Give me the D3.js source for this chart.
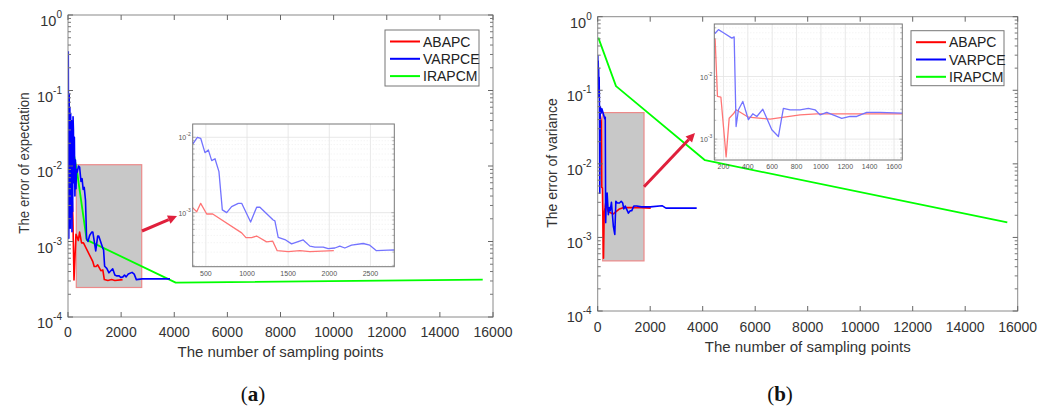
<!DOCTYPE html>
<html><head><meta charset="utf-8">
<script src="https://cdn.jsdelivr.net/npm/d3@7"></script>
<style>
body{margin:0;background:#fff;}
svg{display:block;font-family:"Liberation Sans",Arial,sans-serif;}
</style></head>
<body>
<svg id="chart" width="1050" height="411"></svg>
<script>
// ---------- DATA ----------
const seriesNames = ["ABAPC", "VARPCE", "IRAPCM"];
const seriesColors = ["#ff0000", "#0000ff", "#00ff00"];
const insetColors = ["#ff7575", "#7373ff"];
const xTicksMain = [0, 2000, 4000, 6000, 8000, 10000, 12000, 14000, 16000];
const yTicksMain = [-4, -3, -2, -1, 0];

// (a) error of expectation
const expRedX = [20, 60, 100, 140, 185, 226, 300, 347, 389, 437, 510, 583, 935, 987, 1056, 1117, 1238, 1311, 1367, 1501, 1643, 1764, 2055];
const expRedY = [0.03, 4e-3, 0.01, 5.3e-3, 2e-3, 3.1e-4, 1.25e-3, 1.14e-3, 1.03e-3, 1.33e-3, 9.6e-4, 9.6e-4, 5.4e-4, 4.66e-4, 4.66e-4, 4.9e-4, 4.1e-4, 4.2e-4, 3.13e-4, 3.05e-4, 3.13e-4, 3.05e-4, 3.13e-4];
const expBlueX = [10, 30, 45, 55, 70, 85, 100, 115, 130, 150, 165, 176, 190, 205, 220, 240, 260, 280, 300, 320, 347, 396, 437, 489, 530, 571, 611, 659, 700, 753, 813, 894, 935, 1044, 1117, 1157, 1318, 1339, 1379, 1460, 1542, 1683, 1764, 1825, 1926, 1986, 2068, 2128, 2189, 2270, 2411, 2492, 2573, 2788, 3000, 3840];
const expBlueY = [0.33, 1.1e-3, 0.09, 2e-3, 0.06, 1.5e-3, 0.05, 3e-3, 0.04, 1.35e-3, 0.035, 2.5e-3, 0.045, 0.03, 6e-3, 0.024, 4e-3, 0.012, 5e-3, 9e-3, 8.3e-3, 1e-2, 9.7e-3, 6.25e-3, 6.8e-3, 4.9e-3, 5.2e-3, 3.5e-3, 1.09e-3, 1e-3, 1.2e-3, 1.33e-3, 1.33e-3, 7.5e-4, 1.18e-3, 1.18e-3, 8e-4, 7.8e-4, 4.7e-4, 4.4e-4, 3.85e-4, 4.35e-4, 3.6e-4, 3.5e-4, 3.5e-4, 3.33e-4, 3.4e-4, 3.6e-4, 3.4e-4, 3.7e-4, 3.9e-4, 3.7e-4, 3.13e-4, 3.2e-4, 3.2e-4, 3.2e-4];
const expGreenX = [40, 350, 703, 4055, 15613];
const expGreenY = [0.032, 8e-3, 1.05e-3, 2.85e-4, 3.12e-4];
const expZoomBox = {x0: 312, x1: 2775, y0: 2.46e-4, y1: 1.04e-2};
const expInsetXDomain = [340, 2790];
const expInsetYDomain = [1.92e-4, 1.5e-2];
const expInsetXTicks = [500, 1000, 1500, 2000, 2500];
const expInsetYTicks = [-3, -2];

// (b) error of variance
const varRedX = [100, 132, 151, 179, 222, 247, 282, 304, 405, 583, 829, 966, 1663, 2020];
const varRedY = [0.045, 0.0386, 4.8e-3, 4.7e-3, 5.2e-4, 2.16e-3, 2.54e-3, 2.94e-3, 2.24e-3, 2.08e-3, 2.44e-3, 2.54e-3, 2.54e-3, 2.5e-3];
const varBlueX = [5, 12, 20, 28, 36, 45, 55, 65, 80, 100, 132, 159, 200, 269, 288, 304, 323, 359, 405, 441, 474, 523, 597, 651, 692, 747, 829, 897, 952, 993, 1048, 1171, 1239, 1294, 1376, 1485, 1663, 2000, 2450, 2600, 3771];
const varBlueY = [0.3, 0.12, 0.25, 0.1, 0.2, 0.08, 0.15, 0.07, 4e-3, 0.06, 0.049, 0.056, 0.05, 0.041, 0.043, 1.59e-3, 2.94e-3, 4e-3, 2.04e-3, 2.54e-3, 2.3e-3, 3.0e-3, 1.41e-3, 1.1e-3, 3.1e-3, 2.94e-3, 2.94e-3, 3.1e-3, 2.94e-3, 2.44e-3, 2.67e-3, 2.14e-3, 2.3e-3, 2.3e-3, 2.67e-3, 2.67e-3, 2.6e-3, 2.6e-3, 2.7e-3, 2.5e-3, 2.5e-3];
const varGreenX = [23, 697, 4088, 15604];
const varGreenY = [0.52, 0.114, 0.0112, 1.6e-3];
const varZoomBox = {x0: 190, x1: 1764, y0: 4.8e-4, y1: 0.0497};
const varInsetXDomain = [125, 1668];
const varInsetYDomain = [4.64e-4, 0.069];
const varInsetXTicks = [200, 400, 600, 800, 1000, 1200, 1400, 1600];
const varInsetYTicks = [-3, -2];

// ---------- DRAW ----------
const svg = d3.select("#chart");
const zip = (xs, ys) => xs.map((x, i) => [x, ys[i]]);

function supLabel(sel, exp, base, sup) {
  sel.append("tspan").attr("font-size", base).text("10");
  sel.append("tspan").attr("font-size", sup).attr("dy", -base * 0.55).text(exp);
}

function drawPanel(cfg) {
  const g = svg.append("g");
  const x = d3.scaleLinear().domain([0, 16000]).range([cfg.left, cfg.right]);
  const y = d3.scaleLog().domain([1e-4, 1]).range([cfg.bottom, cfg.top]);

  // zoom box
  const zb = cfg.zoomBox;
  g.append("rect").attr("x", x(zb.x0)).attr("y", y(zb.y1))
    .attr("width", x(zb.x1) - x(zb.x0)).attr("height", y(zb.y0) - y(zb.y1))
    .attr("fill", "#c8c8c8").attr("stroke", "#ec8a8a").attr("stroke-width", 1.2);

  // clip
  const cid = "clip" + cfg.id;
  svg.append("clipPath").attr("id", cid).append("rect")
    .attr("x", cfg.left).attr("y", cfg.top).attr("width", cfg.right - cfg.left).attr("height", cfg.bottom - cfg.top);

  const line = d3.line().x(d => x(d[0])).y(d => y(d[1]));
  const order = [2, 0, 1];
  const lg = g.append("g").attr("clip-path", `url(#${cid})`);
  [cfg.green, cfg.red, cfg.blue].forEach((s, k) => {
    lg.append("path").datum(s).attr("d", line).attr("fill", "none")
      .attr("stroke", seriesColors[order[k]]).attr("stroke-width", order[k] === 2 ? 1.8 : 1.6)
      .attr("stroke-linejoin", "round");
  });

  // axes frame
  g.append("rect").attr("x", cfg.left).attr("y", cfg.top).attr("width", cfg.right - cfg.left)
    .attr("height", cfg.bottom - cfg.top).attr("fill", "none").attr("stroke", "#8a8a8a").attr("stroke-width", 1);

  // x ticks
  xTicksMain.forEach(t => {
    const px = x(t);
    g.append("line").attr("x1", px).attr("x2", px).attr("y1", cfg.bottom).attr("y2", cfg.bottom - 5).attr("stroke", "#666");
    g.append("line").attr("x1", px).attr("x2", px).attr("y1", cfg.top).attr("y2", cfg.top + 5).attr("stroke", "#666");
    g.append("text").attr("x", px).attr("y", cfg.xLabelY).attr("text-anchor", "middle")
      .attr("font-size", 14).attr("fill", "#333").text(t);
  });
  // y ticks
  yTicksMain.forEach(e => {
    const py = y(Math.pow(10, e));
    [[cfg.left, 5], [cfg.right, -5]].forEach(([bx, d]) => {
      g.append("line").attr("x1", bx).attr("x2", bx + d).attr("y1", py).attr("y2", py).attr("stroke", "#666");
    });
    const t = g.append("text").attr("x", cfg.left - 6).attr("y", py + 11).attr("text-anchor", "end").attr("fill", "#333");
    supLabel(t, String(e), 14.5, 10);
    if (e < 0) {
      for (let m = 2; m <= 9; m++) {
        const pm = y(m * Math.pow(10, e));
        [[cfg.left, 3], [cfg.right, -3]].forEach(([bx, d]) => {
          g.append("line").attr("x1", bx).attr("x2", bx + d).attr("y1", pm).attr("y2", pm).attr("stroke", "#777");
        });
      }
    }
  });

  // titles
  g.append("text").attr("x", (cfg.left + cfg.right) / 2).attr("y", cfg.xTitleY).attr("text-anchor", "middle")
    .attr("font-size", 15).attr("fill", "#333").text("The number of sampling points");
  g.append("text").attr("transform", `translate(${cfg.yTitleX},${cfg.yTitleCY}) rotate(-90) scale(${cfg.yTitleSquash},1)`)
    .attr("text-anchor", "middle").attr("font-size", 15.5).attr("fill", "#333").text(cfg.yTitle);

  // caption
  const cap = g.append("text").attr("x", cfg.capX).attr("y", 401).attr("text-anchor", "middle")
    .attr("font-family", "'Liberation Serif','DejaVu Serif',serif").attr("font-size", 21).attr("fill", "#111");
  cap.append("tspan").text("(");
  cap.append("tspan").attr("font-weight", "bold").text(cfg.capLetter);
  cap.append("tspan").text(")");

  // inset
  const ins = cfg.inset;
  const ix = d3.scaleLinear().domain(ins.xDomain).range([ins.left, ins.right]);
  const iy = d3.scaleLog().domain(ins.yDomain).range([ins.bottom, ins.top]);
  const ig = svg.append("g");
  ig.append("rect").attr("x", ins.left).attr("y", ins.top).attr("width", ins.right - ins.left)
    .attr("height", ins.bottom - ins.top).attr("fill", "#fff");
  // grid
  ins.xTicks.forEach(t => {
    ig.append("line").attr("x1", ix(t)).attr("x2", ix(t)).attr("y1", ins.top).attr("y2", ins.bottom)
      .attr("stroke", "#e2e2e2").attr("stroke-width", 0.8);
    ig.append("text").attr("x", ix(t)).attr("y", ins.bottom + 9).attr("text-anchor", "middle")
      .attr("font-size", 7).attr("fill", "#555").text(t);
  });
  const lo = Math.floor(Math.log10(ins.yDomain[0])), hi = Math.ceil(Math.log10(ins.yDomain[1]));
  for (let e = lo; e <= hi; e++) {
    for (let m = 1; m <= 9; m++) {
      const v = m * Math.pow(10, e);
      if (v < ins.yDomain[0] || v > ins.yDomain[1]) continue;
      ig.append("line").attr("x1", ins.left).attr("x2", ins.right).attr("y1", iy(v)).attr("y2", iy(v))
        .attr("stroke", m === 1 ? "#e2e2e2" : "#ececec").attr("stroke-width", 0.8)
        .attr("stroke-dasharray", m === 1 ? null : "1,2");
      ig.append("line").attr("x1", ins.left).attr("x2", ins.left + (m === 1 ? 3 : 2)).attr("y1", iy(v)).attr("y2", iy(v)).attr("stroke", "#888").attr("stroke-width", 0.6);
      ig.append("line").attr("x1", ins.right).attr("x2", ins.right - (m === 1 ? 3 : 2)).attr("y1", iy(v)).attr("y2", iy(v)).attr("stroke", "#888").attr("stroke-width", 0.6);
    }
  }
  ins.yTicks.forEach(e => {
    const t = ig.append("text").attr("x", ins.left - 2).attr("y", iy(Math.pow(10, e)) + 3).attr("text-anchor", "end").attr("fill", "#555");
    supLabel(t, String(e), 7, 5);
  });
  const icid = "iclip" + cfg.id;
  svg.append("clipPath").attr("id", icid).append("rect")
    .attr("x", ins.left).attr("y", ins.top).attr("width", ins.right - ins.left).attr("height", ins.bottom - ins.top);
  const iline = d3.line().x(d => ix(d[0])).y(d => iy(d[1]));
  const ilg = ig.append("g").attr("clip-path", `url(#${icid})`);
  [cfg.red, cfg.blue].forEach((s, k) => {
    ilg.append("path").datum(s).attr("d", iline).attr("fill", "none")
      .attr("stroke", insetColors[k]).attr("stroke-width", 1.3).attr("stroke-linejoin", "round");
  });
  ig.append("rect").attr("x", ins.left).attr("y", ins.top).attr("width", ins.right - ins.left)
    .attr("height", ins.bottom - ins.top).attr("fill", "none").attr("stroke", "#777").attr("stroke-width", 1);

  // arrow
  const a = cfg.arrow;
  const ang = Math.atan2(a.y2 - a.y1, a.x2 - a.x1);
  const hl = 9, hw = 4.5;
  const bx = a.x2 - hl * Math.cos(ang), by = a.y2 - hl * Math.sin(ang);
  svg.append("line").attr("x1", a.x1).attr("y1", a.y1).attr("x2", bx).attr("y2", by)
    .attr("stroke", "#e0203c").attr("stroke-width", 3);
  svg.append("path").attr("d", `M${a.x2},${a.y2} L${bx + hw * Math.sin(ang)},${by - hw * Math.cos(ang)} L${bx - hw * Math.sin(ang)},${by + hw * Math.cos(ang)} Z`)
    .attr("fill", "#e0203c");

  // legend
  const L = cfg.legend;
  const leg = svg.append("g");
  leg.append("rect").attr("x", L.x).attr("y", L.y).attr("width", L.w).attr("height", L.h)
    .attr("fill", "#fff").attr("stroke", "#777").attr("stroke-width", 1);
  seriesNames.forEach((n, i) => {
    const yy = L.y + 11.5 + i * 17.3;
    leg.append("line").attr("x1", L.x + 5).attr("x2", L.x + 35).attr("y1", yy).attr("y2", yy)
      .attr("stroke", seriesColors[i]).attr("stroke-width", 2);
    leg.append("text").attr("x", L.x + 38).attr("y", yy + 5).attr("font-size", 14).attr("fill", "#222").text(n);
  });
}

drawPanel({
  id: "a", left: 68, right: 493, top: 15, bottom: 317,
  xLabelY: 337, xTitleY: 357, yTitleX: 29, yTitleCY: 163, yTitle: "The error of expectation", yTitleSquash: 0.86,
  capX: 253, capLetter: "a",
  red: zip(expRedX, expRedY), blue: zip(expBlueX, expBlueY), green: zip(expGreenX, expGreenY),
  zoomBox: expZoomBox,
  inset: {left: 192.7, right: 394.3, top: 124, bottom: 266.7, xDomain: expInsetXDomain, yDomain: expInsetYDomain, xTicks: expInsetXTicks, yTicks: expInsetYTicks},
  arrow: {x1: 142, y1: 231, x2: 177, y2: 216},
  legend: {x: 385, y: 30, w: 94, h: 56}
});
drawPanel({
  id: "b", left: 597.7, right: 1017.7, top: 16.7, bottom: 311,
  xLabelY: 332, xTitleY: 352, yTitleX: 557, yTitleCY: 163, yTitle: "The error of variance", yTitleSquash: 0.9,
  capX: 780, capLetter: "b",
  red: zip(varRedX, varRedY), blue: zip(varBlueX, varBlueY), green: zip(varGreenX, varGreenY),
  zoomBox: varZoomBox,
  inset: {left: 714.3, right: 902.3, top: 24, bottom: 160, xDomain: varInsetXDomain, yDomain: varInsetYDomain, xTicks: varInsetXTicks, yTicks: varInsetYTicks},
  arrow: {x1: 644, y1: 186.7, x2: 695, y2: 133},
  legend: {x: 911, y: 30.7, w: 93, h: 55}
});
</script>
</body></html>
